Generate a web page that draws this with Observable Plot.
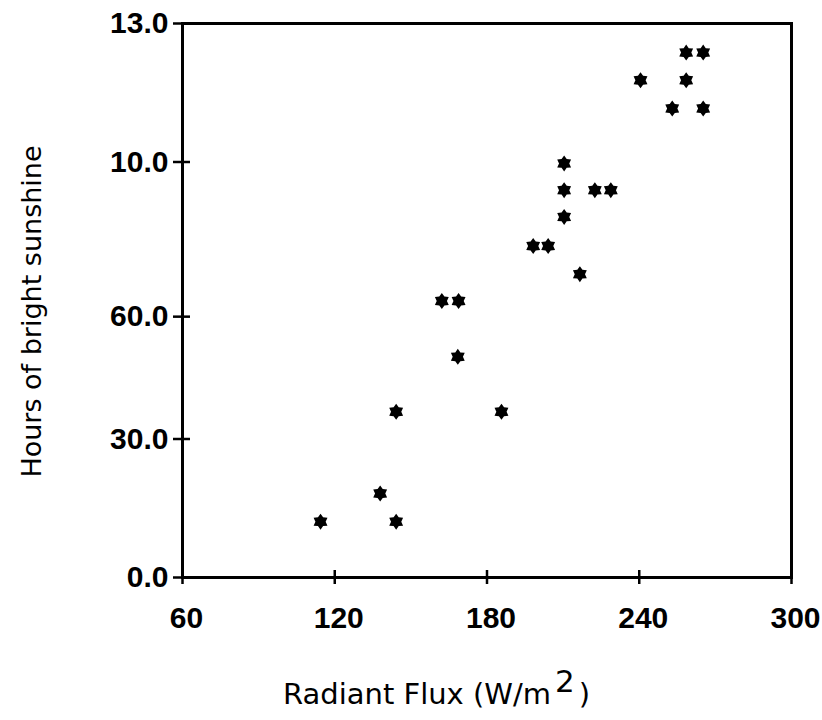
<!DOCTYPE html>
<html><head><meta charset="utf-8">
<script src="https://cdn.jsdelivr.net/npm/d3@7"></script>
<script src="https://cdn.jsdelivr.net/npm/@observablehq/plot@0.6"></script>
<style>body{margin:0;background:#fff}</style>
</head><body><div id="chart"></div>
<script>
// Radiant flux (W/m2) and hours of bright sunshine
const flux  = [114.4, 137.9, 144.2, 144.2, 162.2, 168.8, 168.5, 185.7, 198.2, 204.1, 210.4,
               210.4, 210.4, 216.6, 222.5, 228.8, 240.5, 253.0, 258.5, 258.5, 265.2, 265.2];
const hours = [12.1, 18.2, 12.1, 35.9, 59.9, 59.9, 47.8, 35.9, 71.8, 71.8, 89.7,
               83.9, 78.1, 65.7, 83.9, 83.9, 107.7, 101.6, 113.7, 107.7, 113.7, 101.6];

const xTicks = [60, 120, 180, 240, 300];
const xTickLabels = ["60", "120", "180", "240", "300"];
const yTicks = [0, 30, 56.5, 90, 120];
const yTickLabels = ["0.0", "30.0", "60.0", "10.0", "13.0"];

const xLabel = "Radiant Flux (W/m2)";
const yLabel = "Hours of bright sunshine";

const data = flux.map((x, i) => ({x, y: hours[i]}));

// filled six-pointed star symbol
const star6 = {
  draw(ctx, size) {
    const R = Math.sqrt(size / Math.PI), r = R * 0.64;
    for (let k = 0; k < 12; k++) {
      const a = -Math.PI / 2 + k * Math.PI / 6;
      const rr = k % 2 ? r : R;
      const px = rr * Math.cos(a), py = rr * Math.sin(a);
      k ? ctx.lineTo(px, py) : ctx.moveTo(px, py);
    }
    ctx.closePath();
  }
};

const tickFont = {fontFamily: "Liberation Sans", fontSize: 30, fontWeight: "bold"};

const plot = Plot.plot({
  width: 822, height: 720,
  marginLeft: 182, marginRight: 31, marginTop: 23, marginBottom: 143,
  x: {domain: [60, 300]},
  y: {domain: [0, 120]},
  style: {background: "white", color: "black", fontFamily: "Liberation Sans"},
  marks: [
    Plot.frame({stroke: "black", strokeWidth: 3}),
    Plot.axisY({ticks: yTicks, tickSize: 17, dx: 8, strokeWidth: 2.5, tickFormat: () => "", label: null}),
    Plot.axisX({ticks: xTicks, tickSize: 14, dy: -7, strokeWidth: 2.5, tickFormat: () => "", label: null}),
    Plot.axisY({ticks: yTicks, tickSize: 0, tickPadding: 14, label: null, tickFormat: d => yTickLabels[yTicks.indexOf(d)], ...tickFont}),
    Plot.axisX({ticks: xTicks, tickSize: 0, tickPadding: 29, dx: 4, label: null, tickFormat: d => xTickLabels[xTicks.indexOf(d)], ...tickFont}),
    Plot.text([yLabel], {frameAnchor: "left", textAnchor: "middle", dx: -150, dy: 11, rotate: -90,
      fontFamily: "DejaVu Sans", fontSize: 27, letterSpacing: 0.8}),
    Plot.text([xLabel], {frameAnchor: "bottom", textAnchor: "start", dy: 126, dx: -204,
      fontFamily: "DejaVu Sans", fontSize: 29, letterSpacing: 2}),
    Plot.dot(data, {x: "x", y: "y", symbol: star6, r: 8, fill: "black", stroke: "none"})
  ]
});

plot.querySelectorAll("text").forEach(t => {
  if (t.textContent === xLabel) {
    t.innerHTML = 'Radiant Flux (W/m<tspan dx="4" dy="-12" font-size="31">2</tspan><tspan dx="4" dy="12">)</tspan>';
  }
});

document.getElementById("chart").appendChild(plot);
</script>
</body></html>
